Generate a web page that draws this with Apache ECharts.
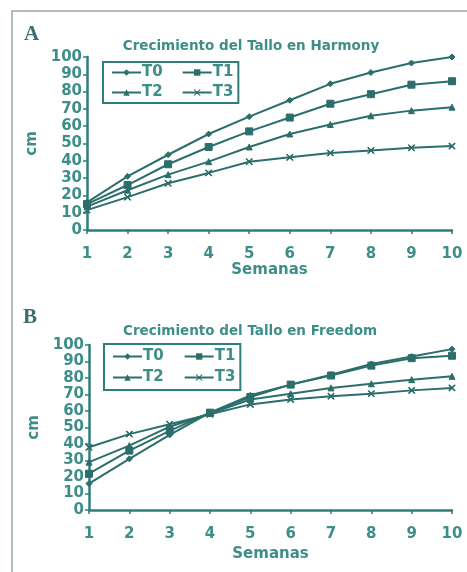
<!DOCTYPE html>
<html><head><meta charset="utf-8">
<script src="https://cdn.jsdelivr.net/npm/echarts@6/dist/echarts.min.js"></script>
<style>html,body{margin:0;padding:0;background:#fff}#c{width:467px;height:572px}</style>
</head><body><div id="c"></div>
<script>
const semanas = ['1','2','3','4','5','6','7','8','9','10'];
const seriesNames = ['T0','T1','T2','T3'];
const harmonyT0 = [16, 31, 43.5, 55.5, 65.5, 75, 84.5, 91, 96.5, 100];
const harmonyT1 = [15, 26, 38, 48, 57, 65, 73, 78.5, 84, 86];
const harmonyT2 = [13.5, 23, 32, 39.5, 48, 55.5, 61, 66, 69, 71];
const harmonyT3 = [11.5, 19, 27, 33, 39.5, 42, 44.5, 46, 47.5, 48.5];
const freedomT0 = [16, 31, 45.5, 59, 69.5, 76, 82, 88.5, 93, 97.5];
const freedomT1 = [22, 36, 48, 59, 68.5, 76, 81.5, 87.5, 92, 93.5];
const freedomT2 = [29, 39, 50.5, 58.5, 67, 70.5, 74, 76.5, 79, 81];
const freedomT3 = [38, 46, 52, 58, 64, 67, 69, 70.5, 72.5, 74];

const FONT = 'DejaVu Sans';
const lineColor = '#2b6e6c';
const textColor = '#3d8e88';
const axisColor = '#2e7f7b';
const symbols = ['diamond','rect','triangle','path://M0,0 L10,10 M10,0 L0,10 M0,0 L1,0 L10,9 L10,10 L9,10 L0,1 Z M10,0 L10,1 L1,10 L0,10 L0,9 L9,0 Z'];
const sizes = [6,7,6,6];

function mkX(gi, nameGap){
  return {type:'category', gridIndex:gi, data:semanas, boundaryGap:false,
    name:'Semanas', nameLocation:'middle', nameGap:nameGap,
    nameTextStyle:{color:textColor, fontFamily:FONT, fontWeight:'bold', fontSize:15},
    axisLine:{lineStyle:{color:axisColor, width:2.5}},
    axisTick:{show:true, alignWithLabel:true, length:4, lineStyle:{color:axisColor, width:1.5}},
    axisLabel:{color:textColor, fontFamily:FONT, fontWeight:'bold', fontSize:15, margin:17, interval:0},
    splitLine:{show:false}};
}
function mkY(gi){
  return {type:'value', gridIndex:gi, min:0, max:100, interval:10,
    name:'cm', nameLocation:'middle', nameGap:43, nameRotate:90,
    nameTextStyle:{color:textColor, fontFamily:FONT, fontWeight:'bold', fontSize:15},
    axisLine:{show:true, lineStyle:{color:axisColor, width:2.5}},
    axisTick:{show:true, length:4, lineStyle:{color:axisColor, width:1.5}},
    axisLabel:{color:textColor, fontFamily:FONT, fontWeight:'bold', fontSize:15, margin:5},
    splitLine:{show:false}};
}
function mkS(name, idx, data, gi){
  return {type:'line', name:name, xAxisIndex:gi, yAxisIndex:gi, data:data,
    symbol:symbols[idx], symbolSize:sizes[idx], showSymbol:true,
    lineStyle:{color:lineColor, width:2}, itemStyle:{color:lineColor, borderColor:lineColor},
    animation:false};
}
function mkLegend(left, top, vpad, gap){
  return {left:left, top:top, width:125, orient:'horizontal',
    data:[
      {name:'T0', textStyle:{padding:[0,14,0,-4]}},
      {name:'T1', textStyle:{padding:[0,0,0,-4]}},
      {name:'T2', textStyle:{padding:[0,14,0,-4]}},
      {name:'T3', textStyle:{padding:[0,0,0,-4]}}
    ],
    itemWidth:29, itemHeight:8, itemGap:gap, padding:[vpad,5,vpad,8],
    borderColor:axisColor, borderWidth:2,
    textStyle:{color:textColor, fontFamily:FONT, fontWeight:'bold', fontSize:15, lineHeight:15}};
}
const chart = echarts.init(document.getElementById('c'));
chart.setOption({
  backgroundColor:'#fff',
  title:[
    {text:'A', left:19, top:19, textStyle:{fontFamily:'Liberation Serif', fontWeight:'bold', fontSize:21, color:'#3d6d6d'}},
    {text:'Crecimiento del Tallo en Harmony', left:246, textAlign:'center', top:34, textStyle:{fontFamily:FONT, fontWeight:'bold', fontSize:13.5, color:textColor}},
    {text:'B', left:18, top:302, textStyle:{fontFamily:'Liberation Serif', fontWeight:'bold', fontSize:21, color:'#3d6d6d'}},
    {text:'Crecimiento del Tallo en Freedom', left:245, textAlign:'center', top:319, textStyle:{fontFamily:FONT, fontWeight:'bold', fontSize:13.5, color:textColor}}
  ],
  legend:[mkLegend(103, 62, 3, 5), mkLegend(104, 344, 5, 6)],
  grid:[
    {left:87, right:15, top:57, bottom:342, containLabel:false},
    {left:89, right:15, top:345, bottom:62, containLabel:false}
  ],
  xAxis:[mkX(0, 31), mkX(1, 37)],
  yAxis:[mkY(0), mkY(1)],
  series:[
    mkS('T0',0,harmonyT0,0), mkS('T1',1,harmonyT1,0), mkS('T2',2,harmonyT2,0), mkS('T3',3,harmonyT3,0),
    mkS('T0',0,freedomT0,1), mkS('T1',1,freedomT1,1), mkS('T2',2,freedomT2,1), mkS('T3',3,freedomT3,1)
  ],
  graphic:[
    {type:'polyline', shape:{points:[[12,572],[12,11],[467,11]]}, style:{stroke:'#98a8a8', lineWidth:1.5, fill:null}, silent:true}
  ]
});
</script></body></html>
